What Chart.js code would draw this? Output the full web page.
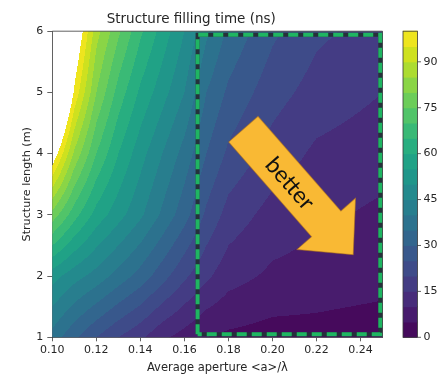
<!DOCTYPE html>
<html>
<head>
<meta charset="utf-8">
<script src="https://cdn.jsdelivr.net/npm/chart.js@4.4.1/dist/chart.umd.min.js"></script>
<style>
  html, body { margin: 0; padding: 0; background: #ffffff; }
  #wrap { width: 437px; height: 376px; }
</style>
</head>
<body>
<div id="wrap"><canvas id="chart" width="437" height="376"></canvas></div>
<script>
// Sample grid of the filling-time map
const apertures = [0.10, 0.11, 0.12, 0.13, 0.14, 0.15, 0.16, 0.17, 0.18, 0.20, 0.22, 0.25];
const lengths = [1, 2, 3, 4, 5, 6];

// Filling time (ns) along the aperture grid, one list per structure length
const fillTimeL1 = [38, 31, 25, 20, 16, 11, 8, 5, 4, 3, 3, 2];
const fillTimeL2 = [52, 47, 43, 38, 33, 27, 21, 16, 12, 9, 8, 7];
const fillTimeL3 = [78, 67, 58, 52, 46, 39, 32, 24, 18, 13, 11, 9];
const fillTimeL4 = [105, 84, 70, 60, 52, 45, 38, 30, 24, 18, 14, 12];
const fillTimeL5 = [130, 99, 80, 68, 59, 52, 45, 35, 29, 22, 18, 15];
const fillTimeL6 = [150, 108, 87, 76, 66, 58, 50, 41, 34, 26, 21, 18];

// Filled-contour levels (ns)
const contourLevels = [0, 5, 10, 15, 20, 25, 30, 35, 40, 45, 50, 55, 60, 65, 70, 75, 80, 85, 90, 95, 100];

// Tick labels
const apertureTicks = [0.10, 0.12, 0.14, 0.16, 0.18, 0.20, 0.22, 0.24];
const lengthTicks = [1, 2, 3, 4, 5, 6];
const colorbarTicks = [0, 15, 30, 45, 60, 75, 90];

// Highlighted design region and the "better" arrow (data coordinates)
const regionAperture = [0.166, 0.249];
const regionLength = [1.05, 5.94];
const arrowTail = [0.1868, 4.40];
const arrowTip = [0.2367, 2.35];
const arrowText = 'better';

const fillRows = [fillTimeL1, fillTimeL2, fillTimeL3, fillTimeL4, fillTimeL5, fillTimeL6];

// viridis colour map
const VIRIDIS = ['#440154','#471365','#482475','#463480','#414487','#3b528b','#355f8d',
  '#2f6c8e','#2a788e','#25848e','#21918c','#1e9c89','#22a884','#2fb47c','#44bf70',
  '#5ec962','#7ad151','#9bd93c','#bddf26','#dfe318','#fde725'];
const VIR_RGB = VIRIDIS.map(h => [parseInt(h.slice(1,3),16), parseInt(h.slice(3,5),16), parseInt(h.slice(5,7),16)]);
function viridis(t) {
  t = Math.max(0, Math.min(1, t));
  const f = t * (VIR_RGB.length - 1);
  const i = Math.min(VIR_RGB.length - 2, Math.floor(f));
  const u = f - i;
  const a = VIR_RGB[i], b = VIR_RGB[i + 1];
  return [a[0] + (b[0]-a[0])*u, a[1] + (b[1]-a[1])*u, a[2] + (b[2]-a[2])*u];
}
function bandColor(k) {
  return viridis((k + 0.5) / (contourLevels.length - 1));
}

function locate(grid, v) {
  for (let k = 0; k < grid.length - 1; k++) {
    if (v <= grid[k + 1]) return k;
  }
  return grid.length - 2;
}
// field value between sample points
function fillTimeAt(a, L) {
  const i = locate(apertures, a), j = locate(lengths, L);
  const tx = (a - apertures[i]) / (apertures[i + 1] - apertures[i]);
  const ty = (L - lengths[j]) / (lengths[j + 1] - lengths[j]);
  const r0 = fillRows[j], r1 = fillRows[j + 1];
  return (1-tx)*(1-ty)*r0[i] + tx*(1-ty)*r0[i+1] + (1-tx)*ty*r1[i] + tx*ty*r1[i+1];
}
function levelIndex(v) {
  if (v < contourLevels[0] || v > contourLevels[contourLevels.length - 1]) return -1;
  for (let k = 0; k < contourLevels.length - 1; k++) {
    if (v <= contourLevels[k + 1]) return k;
  }
  return -1;
}

const TEXT = '#262626';
const AXIS = '#3a3a3a';
Chart.defaults.font.family = 'DejaVu Sans';
Chart.defaults.color = TEXT;

// Filled contour map, arrow and colour bar
const contourPlugin = {
  id: 'contourMap',
  beforeDatasetsDraw(chart) {
    const {ctx, chartArea: ca, scales: {x, y}} = chart;
    const x0 = Math.floor(ca.left), x1 = Math.ceil(ca.right);
    const y0 = Math.floor(ca.top), y1 = Math.ceil(ca.bottom);
    const w = x1 - x0, h = y1 - y0;
    const off = document.createElement('canvas');
    off.width = w; off.height = h;
    const octx = off.getContext('2d');
    const img = octx.createImageData(w, h);
    for (let iy = 0; iy < h; iy++) {
      const L = y.getValueForPixel(y0 + iy + 0.5);
      for (let ix = 0; ix < w; ix++) {
        const a = x.getValueForPixel(x0 + ix + 0.5);
        const k = levelIndex(fillTimeAt(a, L));
        if (k < 0) continue;
        const c = bandColor(k);
        const p = (iy * w + ix) * 4;
        img.data[p] = c[0]; img.data[p+1] = c[1]; img.data[p+2] = c[2]; img.data[p+3] = 255;
      }
    }
    octx.putImageData(img, 0, 0);
    ctx.save();
    ctx.beginPath();
    ctx.rect(ca.left, ca.top, ca.right - ca.left, ca.bottom - ca.top);
    ctx.clip();
    ctx.drawImage(off, x0, y0);
    ctx.restore();
    // top and right frame lines
    ctx.save();
    ctx.strokeStyle = AXIS;
    ctx.lineWidth = 0.8;
    ctx.beginPath();
    ctx.moveTo(ca.left, ca.top); ctx.lineTo(ca.right, ca.top); ctx.lineTo(ca.right, ca.bottom);
    ctx.stroke();
    ctx.restore();
  },
  afterDatasetsDraw(chart) {
    const {ctx, scales: {x, y}} = chart;
    // block arrow
    const tx = x.getPixelForValue(arrowTail[0]), ty = y.getPixelForValue(arrowTail[1]);
    const hx = x.getPixelForValue(arrowTip[0]), hy = y.getPixelForValue(arrowTip[1]);
    const len = Math.hypot(hx - tx, hy - ty);
    const ang = Math.atan2(hy - ty, hx - tx);
    const shaftHalf = 19.5, headHalf = 39, headLen = 41;
    ctx.save();
    ctx.translate(tx, ty);
    ctx.rotate(ang);
    ctx.beginPath();
    ctx.moveTo(0, -shaftHalf);
    ctx.lineTo(len - headLen, -shaftHalf);
    ctx.lineTo(len - headLen, -headHalf);
    ctx.lineTo(len, 0);
    ctx.lineTo(len - headLen, headHalf);
    ctx.lineTo(len - headLen, shaftHalf);
    ctx.lineTo(0, shaftHalf);
    ctx.closePath();
    ctx.fillStyle = '#f9b934';
    ctx.fill();
    ctx.strokeStyle = 'rgba(170,110,30,0.55)';
    ctx.lineWidth = 1;
    ctx.stroke();
    ctx.fillStyle = '#111111';
    ctx.font = '23px Lato';
    ctx.textAlign = 'center';
    ctx.textBaseline = 'middle';
    ctx.fillText(arrowText, 71.5, 1);
    ctx.restore();
  },
  afterDraw(chart) {
    const {ctx, chartArea: ca, scales: {cb}} = chart;
    const bx = ca.right + 20.5, bw = 14.5;
    ctx.save();
    for (let k = 0; k < contourLevels.length - 1; k++) {
      const yTop = cb.getPixelForValue(contourLevels[k + 1]);
      const yBot = cb.getPixelForValue(contourLevels[k]);
      const c = bandColor(k);
      ctx.fillStyle = `rgb(${c[0]|0},${c[1]|0},${c[2]|0})`;
      ctx.fillRect(bx, yTop - 0.5, bw, yBot - yTop + 1);
    }
    const top = cb.getPixelForValue(contourLevels[contourLevels.length - 1]);
    const bot = cb.getPixelForValue(contourLevels[0]);
    ctx.strokeStyle = AXIS;
    ctx.lineWidth = 0.8;
    ctx.strokeRect(bx, top, bw, bot - top);
    ctx.fillStyle = TEXT;
    ctx.font = '11px "DejaVu Sans"';
    ctx.textAlign = 'left';
    ctx.textBaseline = 'middle';
    colorbarTicks.forEach(v => {
      const py = cb.getPixelForValue(v);
      ctx.beginPath();
      ctx.moveTo(bx + bw, py); ctx.lineTo(bx + bw + 3.5, py);
      ctx.stroke();
      ctx.fillText(String(v), bx + bw + 6, py);
    });
    ctx.restore();
  }
};

const boxPoints = [
  {x: regionAperture[0], y: regionLength[0]},
  {x: regionAperture[0], y: regionLength[1]},
  {x: regionAperture[1], y: regionLength[1]},
  {x: regionAperture[1], y: regionLength[0]},
  {x: regionAperture[0], y: regionLength[0]}
];

new Chart(document.getElementById('chart'), {
  type: 'scatter',
  data: {
    datasets: [
      { data: boxPoints, showLine: true, borderColor: '#24323a', borderWidth: 4,
        pointRadius: 0, borderJoinStyle: 'miter', fill: false, order: 2 },
      { data: boxPoints, showLine: true, borderColor: '#1fb562', borderWidth: 4,
        borderDash: [10, 5], pointRadius: 0, borderJoinStyle: 'miter', fill: false, order: 1 }
    ]
  },
  options: {
    responsive: false,
    animation: false,
    devicePixelRatio: 1,
    layout: { padding: { left: 0, right: 54.5, top: 0, bottom: 0 } },
    plugins: {
      legend: { display: false },
      tooltip: { enabled: false },
      title: {
        display: true,
        text: 'Structure filling time (ns)',
        color: TEXT,
        font: { size: 13.5, weight: 'normal', family: 'DejaVu Sans', lineHeight: 1.2 },
        padding: { top: 11, bottom: 4 }
      }
    },
    scales: {
      x: {
        type: 'linear',
        min: 0.10, max: 0.25,
        afterBuildTicks(scale) { scale.ticks = apertureTicks.map(v => ({ value: v })); },
        afterFit(scale) { scale.height = 38.7; },
        ticks: {
          color: TEXT, font: { size: 11 }, padding: 2, maxRotation: 0, autoSkip: false,
          callback: v => Number(v).toFixed(2)
        },
        grid: { display: true, drawOnChartArea: false, drawTicks: true, tickLength: 4,
                tickColor: AXIS, tickWidth: 0.8 },
        border: { display: true, color: AXIS, width: 0.8 },
        title: { display: true, text: 'Average aperture <a>/λ', color: TEXT,
                 font: { size: 11.5, lineHeight: 1.2 }, padding: { top: 0, bottom: 1 } }
      },
      y: {
        type: 'linear',
        min: 1, max: 6,
        afterBuildTicks(scale) { scale.ticks = lengthTicks.map(v => ({ value: v })); },
        afterFit(scale) { scale.width = 52.3; },
        ticks: { color: TEXT, font: { size: 11 }, padding: 4, autoSkip: false,
                 callback: v => String(v) },
        grid: { display: true, drawOnChartArea: false, drawTicks: true, tickLength: 5,
                tickColor: AXIS, tickWidth: 0.8 },
        border: { display: true, color: AXIS, width: 0.8 },
        title: { display: true, text: 'Structure length (m)', color: TEXT,
                 font: { size: 11.2, lineHeight: 1.2 }, padding: { top: 20, bottom: 0 } }
      },
      cb: {
        type: 'linear', position: 'right', display: false,
        min: contourLevels[0], max: contourLevels[contourLevels.length - 1]
      }
    }
  },
  plugins: [contourPlugin]
});
</script>
</body>
</html>
